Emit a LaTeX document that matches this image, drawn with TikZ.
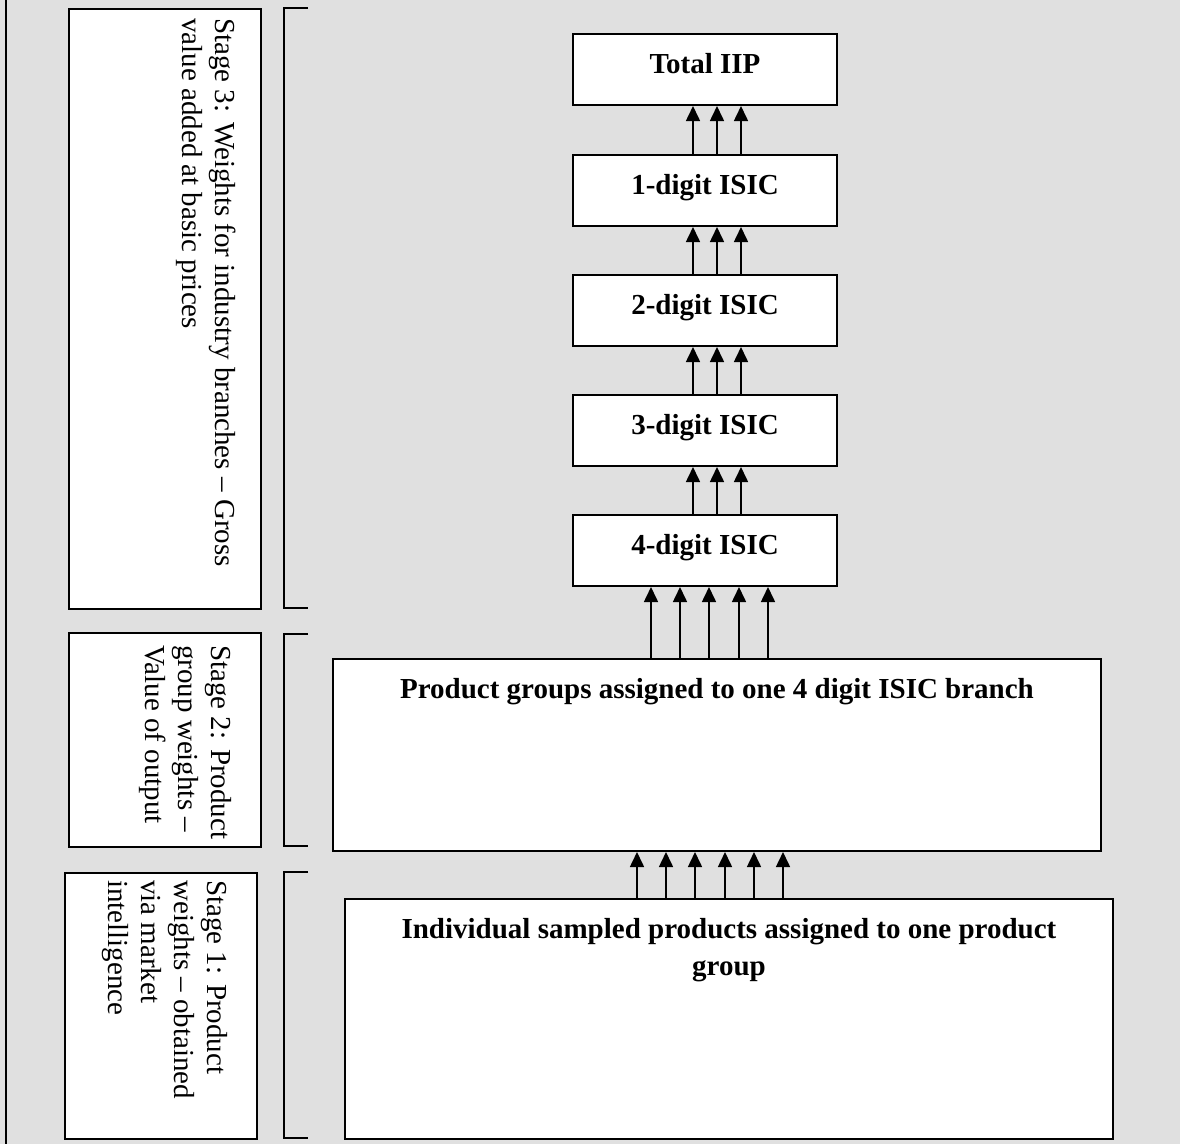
\documentclass[tikz,border=0pt]{standalone}
\usepackage{fontspec}
\setmainfont{Liberation Serif}
\usetikzlibrary{arrows.meta}
\definecolor{bgc}{RGB}{224,224,224}
\begin{document}
\begin{tikzpicture}[x=1pt,y=-1pt,
  box/.style={draw,line width=2pt,fill=white,inner sep=0pt,anchor=north west},
  lbl/.style={font=\fontsize{29}{33}\selectfont\bfseries,anchor=north,inner sep=0pt,align=center},
  stagetxt/.style={font=\fontsize{29}{33}\selectfont,rotate=-90,anchor=north west,inner sep=0pt,align=left},
  arr/.style={line width=1.6pt,-{Triangle[width=14pt,length=15pt]}},
  brk/.style={line width=2pt}]
\fill[bgc] (0,0) rectangle (1180,1144);
\useasboundingbox (0,0) rectangle (1180,1144);
\draw[line width=2pt] (6,0) -- (6,1144);

% stage boxes
\node[box,minimum width=192pt,minimum height=600pt] (s3) at (68,8) {};
\node[box,minimum width=192pt,minimum height=214pt] (s2) at (68,632) {};
\node[box,minimum width=192pt,minimum height=266pt] (s1) at (64,872) {};
\node[stagetxt] (s3t) at ([xshift=-26pt,yshift=-10pt]s3.north east) {Stage 3: Weights for industry branches -- Gross\\value added at basic prices};
\node[stagetxt] (s2t) at ([xshift=-30pt,yshift=-13pt]s2.north east) {Stage 2: Product\\group weights --\\Value of output};
\node[stagetxt] (s1t) at ([xshift=-30pt,yshift=-8pt]s1.north east) {Stage 1: Product\\weights -- obtained\\via market\\intelligence};

% brackets
\draw[brk] (308,8) -- (284,8) -- (284,608) -- (308,608);
\draw[brk] (308,634) -- (284,634) -- (284,846) -- (308,846);
\draw[brk] (308,872) -- (284,872) -- (284,1138) -- (308,1138);

% main boxes
\node[box,minimum width=264pt,minimum height=71pt] (iip) at (572,33) {};
\node[box,minimum width=264pt,minimum height=71pt] (d1) at (572,154) {};
\node[box,minimum width=264pt,minimum height=71pt] (d2) at (572,274) {};
\node[box,minimum width=264pt,minimum height=71pt] (d3) at (572,394) {};
\node[box,minimum width=264pt,minimum height=71pt] (d4) at (572,514) {};
\node[box,minimum width=768pt,minimum height=192pt] (pg) at (332,658) {};
\node[box,minimum width=768pt,minimum height=240pt] (ind) at (344,898) {};

\node[lbl] (iipt) at ([yshift=-20pt]iip.north) {Total IIP};
\node[lbl] (d1t) at ([yshift=-20pt]d1.north) {1-digit ISIC};
\node[lbl] (d2t) at ([yshift=-20pt]d2.north) {2-digit ISIC};
\node[lbl] (d3t) at ([yshift=-20pt]d3.north) {3-digit ISIC};
\node[lbl] (d4t) at ([yshift=-20pt]d4.north) {4-digit ISIC};
\node[lbl] (pgt) at ([yshift=-20pt]pg.north) {Product groups assigned to one 4 digit ISIC branch};
\node[lbl] (indt) at ([yshift=-20pt]ind.north) {Individual sampled products assigned to one product\\[4pt]group};

% arrows
\foreach \s/\t in {d1/iip,d2/d1,d3/d2,d4/d3}{
  \foreach \d in {-12,12,36}{
    \draw[arr] ([xshift=\d pt]\s.north) -- ([xshift=\d pt]\t.south);
  }
}
\foreach \a/\b in {-66/-54,-37/-25,-8/4,22/34,51/63}{
  \draw[arr] ([xshift=\a pt]pg.north) -- ([xshift=\b pt]d4.south);
}
\foreach \a/\b in {-92/-80,-63/-51,-34/-22,-4/8,25/37,54/66}{
  \draw[arr] ([xshift=\a pt]ind.north) -- ([xshift=\b pt]pg.south);
}
\end{tikzpicture}
\end{document}
